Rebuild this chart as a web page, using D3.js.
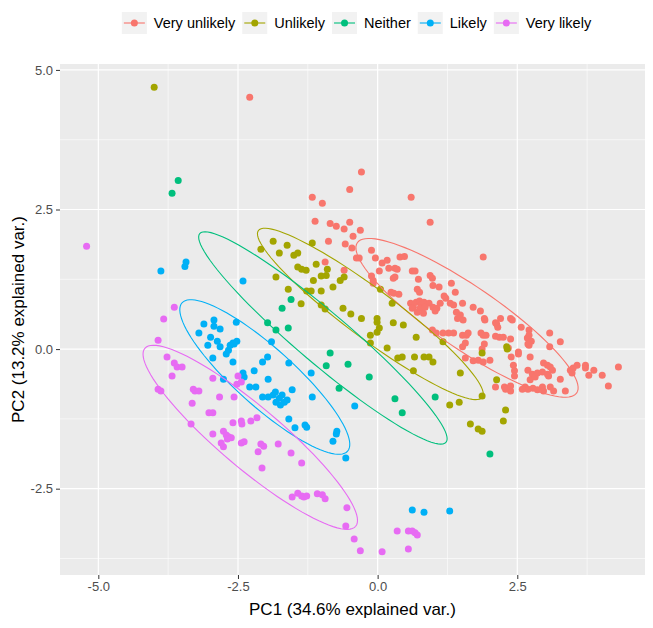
<!DOCTYPE html>
<html><head><meta charset="utf-8">
<script src="https://cdn.jsdelivr.net/npm/d3@7"></script>
<style>body{margin:0;background:#fff}text{font-family:"Liberation Sans",Arial,sans-serif}</style>
</head><body><svg id="chart" width="653" height="628"></svg>
<script>
const categories = ["Very unlikely","Unlikely","Neither","Likely","Very likely"];
const colors = ["#F8766D","#A3A500","#00BF7D","#00B0F6","#E76BF3"];
const xTicks = [-5, -2.5, 0, 2.5];
const yTicks = [-2.5, 0, 2.5, 5];
const xMinor = [-3.75, -1.25, 1.25, 3.75];
const yMinor = [-3.75, -1.25, 1.25, 3.75];
const xTitle = "PC1 (34.6% explained var.)";
const yTitle = "PC2 (13.2% explained var.)";

// [PC1, PC2] per group
const veryUnlikely = [[-2.29,4.51],[-0.29,3.17],[-0.50,2.86],[-1.17,2.72],[-0.99,2.61],[0.60,2.72],[0.94,2.27],[1.89,1.65],
[-1.12,2.29],[-0.85,2.25],[-0.74,2.20],[-0.60,2.15],[-0.50,2.27],[-0.31,2.13],[-0.44,2.02],[-0.88,1.93],[-0.58,1.88],[-0.46,1.81],
[-0.38,1.63],[-0.33,1.63],[-0.94,1.56],[-0.60,1.41],[-0.11,1.77],[-0.04,1.63],[0.08,1.54],[0.17,1.59],[0.03,1.40],[0.20,1.45],
[0.40,1.65],[0.48,1.66],[0.31,1.45],[0.35,1.43],[0.62,1.40],[0.67,1.40],[0.28,1.27],[0.31,1.29],[-0.11,1.31],[-0.08,1.23],
[-0.08,1.18],[0.94,1.32],[0.98,1.27],[0.73,1.25],[0.24,1.02],[0.29,1.00],[0.38,0.98],[0.71,1.07],[0.75,1.02],[0.99,1.14],
[1.10,1.11],[1.19,0.95],[1.22,0.91],[1.12,0.82],[1.30,0.82],[1.32,1.18],[1.39,1.02],[0.59,0.82],[0.64,0.75],[0.69,0.84],
[0.75,0.86],[0.78,0.79],[0.62,0.73],[0.76,0.73],[0.71,0.66],[0.82,0.64],[0.83,0.84],[0.92,0.82],[0.85,0.75],[0.99,0.75],
[1.06,0.73],[1.03,0.68],[1.36,0.79],[1.52,0.82],[1.71,0.75],[1.84,0.68],[1.91,0.55],[1.48,0.61],[1.43,0.55],[1.53,0.52],
[1.41,0.66],[1.92,0.52],[2.13,0.45],[2.15,0.39],[2.20,0.55],[2.38,0.55],[2.41,0.52],[2.11,0.47],[2.57,0.39],[2.71,0.34],
[3.08,0.29],[3.27,0.13],[0.98,0.34],[1.05,0.29],[1.17,0.29],[1.27,0.29],[1.36,0.29],[1.52,0.25],[1.59,0.25],[1.62,0.29],
[1.85,0.29],[1.89,0.25],[1.94,0.25],[2.11,0.23],[2.18,0.21],[2.25,0.21],[2.38,0.18],[1.52,0.04],[1.57,0.11],[1.91,0.09],
[1.87,0.00],[2.34,0.02],[2.52,-0.05],[2.71,0.07],[2.68,0.20],[2.75,0.14],[2.69,0.09],[2.71,0.25],[3.08,0.04],[2.39,-0.14],
[2.52,-0.09],[2.73,-0.14],[1.57,-0.16],[1.71,-0.21],[1.80,-0.20],[1.89,-0.23],[2.01,-0.20],[2.43,-0.29],[2.45,-0.39],[2.45,-0.48],
[2.69,-0.38],[2.77,-0.45],[2.73,-0.55],[2.82,-0.50],[2.86,-0.43],[2.95,-0.41],[2.97,-0.25],[3.04,-0.29],[3.09,-0.32],[3.13,-0.38],
[3.04,-0.45],[3.06,-0.48],[3.27,-0.54],[3.09,-0.68],[3.15,-0.75],[2.95,-0.68],[2.64,-0.68],[2.69,-0.72],[2.78,-0.70],[2.86,-0.73],
[2.59,-0.72],[2.97,-0.75],[2.27,-0.68],[2.34,-0.70],[2.38,-0.75],[2.29,-0.72],[2.11,-0.68],[2.38,-0.66],[3.36,-0.75],[3.45,-0.38],
[3.50,-0.34],[3.57,-0.29],[3.72,-0.29],[3.72,-0.34],[3.87,-0.38],[3.78,-0.47],[4.02,-0.47],[4.13,-0.66],[4.31,-0.32],[3.48,-0.43]];

const unlikely = [[-4.00,4.69],[-1.87,1.93],[-2.09,1.79],[-1.62,1.86],[-1.76,1.72],[-1.50,1.68],[-1.43,1.72],[-1.17,1.90],
[-1.10,1.52],[-1.43,1.47],[-1.36,1.43],[-1.28,1.41],[-0.90,1.43],[-1.01,1.31],[-0.92,1.32],[-1.15,1.23],[-0.67,1.23],[-0.60,1.29],
[-1.82,1.29],[-1.60,1.07],[-1.27,1.04],[-1.19,1.04],[-1.01,1.04],[-0.80,1.11],[-1.37,0.81],[-1.01,0.79],[-0.94,0.72],[-0.62,0.73],
[-0.48,0.63],[-0.29,0.55],[-0.01,0.55],[-0.01,0.48],[0.03,0.38],[-0.01,0.30],[-0.13,0.25],[-0.13,0.11],[0.28,0.47],[0.17,0.02],
[0.36,-0.16],[0.05,1.07],[0.26,0.82],[0.46,0.43],[0.69,0.21],[0.44,-0.14],[0.66,-0.14],[0.83,-0.14],[0.92,-0.14],[0.99,-0.23],
[0.64,-0.39],[1.17,0.13],[1.48,-0.43],[1.87,-0.07],[2.31,0.04],[2.32,0.00],[2.13,-0.55],[1.87,-0.84],[1.46,-0.95],[1.29,-1.00],
[2.29,-1.09],[2.25,-1.29],[1.66,-1.34],[1.80,-1.43],[1.87,-1.47]];

const neither = [[-3.57,3.02],[-3.68,2.79],[-1.55,0.89],[-1.71,0.73],[-1.97,0.47],[-1.82,0.34],[-1.60,0.38],[-0.85,-0.07],
[-0.92,-0.30],[-0.53,-0.27],[-0.15,-0.50],[-0.69,-0.70],[0.31,-0.89],[0.44,-1.14],[1.03,-0.86],[2.01,-1.88]];

const likely = [[-3.88,1.40],[-3.43,1.56],[-3.45,1.48],[-2.41,1.22],[-3.11,0.45],[-2.93,0.52],[-2.93,0.41],[-2.82,0.36],
[-3.20,0.29],[-2.99,0.21],[-2.87,0.14],[-3.04,0.07],[-2.82,0.04],[-2.64,0.07],[-2.59,0.11],[-2.52,0.14],[-2.67,-0.02],[-2.71,-0.09],
[-2.95,-0.16],[-2.59,-0.23],[-2.53,0.48],[-2.76,-0.54],[-2.41,-0.43],[-2.39,-0.50],[-2.21,-0.39],[-2.29,-0.68],[-2.18,-0.68],[-1.96,-0.54],
[-1.90,0.13],[-1.97,-0.14],[-2.06,-0.23],[-2.06,-0.86],[-1.96,-0.86],[-1.87,-0.82],[-1.83,-0.77],[-1.76,-0.88],[-1.71,-0.82],[-1.82,-0.95],
[-1.67,-0.95],[-1.74,-1.00],[-1.62,-0.91],[-1.59,-0.25],[-1.53,-0.73],[-1.59,-1.25],[-1.48,-1.41],[-1.30,-1.36],[-1.27,-1.40],[-1.19,-0.43],
[-1.17,-0.86],[-0.73,-1.47],[-0.74,-1.52],[-0.80,-1.65],[-0.57,-1.95],[-0.41,-1.02],[0.62,-2.88],[0.83,-2.92],[1.29,-2.90],[-2.57,0.09]];

const veryLikely = [[-5.21,1.84],[-3.64,0.75],[-3.83,0.54],[-3.93,0.16],[-3.77,-0.14],[-3.64,-0.25],[-3.59,-0.32],[-3.50,-0.32],
[-3.68,-0.48],[-3.93,-0.72],[-3.88,-0.75],[-3.30,-0.72],[-3.27,-0.75],[-3.20,-0.75],[-3.32,-0.97],[-2.95,-0.52],[-2.83,-0.86],[-2.57,-0.86],
[-2.50,-0.48],[-2.44,-0.59],[-3.02,-1.14],[-2.95,-1.14],[-3.34,-1.34],[-2.59,-1.32],[-2.44,-1.29],[-2.43,-1.34],[-2.27,-1.29],[-2.16,-1.23],
[-2.95,-1.52],[-2.76,-1.47],[-2.71,-1.54],[-2.67,-1.57],[-2.62,-1.59],[-2.69,-1.61],[-2.80,-1.68],[-2.76,-1.75],[-2.44,-1.68],[-2.39,-1.66],
[-2.09,-1.70],[-2.04,-1.74],[-1.78,-1.70],[-2.14,-1.84],[-1.55,-1.86],[-1.36,-2.04],[-2.07,-2.13],[-1.53,-2.65],[-1.43,-2.58],[-1.36,-2.63],
[-1.32,-2.65],[-1.27,-2.63],[-1.08,-2.59],[-0.99,-2.61],[-0.94,-2.68],[-0.55,-2.84],[-0.57,-3.17],[-0.42,-3.40],[-0.31,-3.61],[0.08,-3.63],
[0.35,-3.26],[0.55,-3.26],[0.62,-3.26],[0.67,-3.29],[0.71,-3.33],[0.55,-3.58],[-2.52,-0.63]];

// normal-probability ellipses per group (data units): centre, semi-axes, tilt of major axis (degrees)
const ellipseCx = [1.60, -0.13, -0.98, -2.02, -2.28];
const ellipseCy = [0.56, 0.63, 0.20, -0.50, -1.58];
const ellipseA  = [2.38, 2.50, 2.89, 1.99, 2.47];
const ellipseB  = [0.56, 0.44, 0.46, 0.52, 0.55];
const ellipseAngle = [-34.4, -36.7, -40.3, -41.9, -40.2];

const groups = [veryUnlikely, unlikely, neither, likely, veryLikely];

const svg = d3.select("#chart");
const P = {left:60, right:645, top:64, bottom:575};
const all = groups.flat();
const xe = d3.extent(all, d=>d[0]), ye = d3.extent(all, d=>d[1]);
const xp = (xe[1]-xe[0])*0.05, yp = (ye[1]-ye[0])*0.05;
const x = d3.scaleLinear().domain([xe[0]-xp, xe[1]+xp]).range([P.left, P.right]);
const y = d3.scaleLinear().domain([ye[0]-yp, ye[1]+yp]).range([P.bottom, P.top]);

svg.append("rect").attr("x",P.left).attr("y",P.top).attr("width",P.right-P.left).attr("height",P.bottom-P.top).attr("fill","#EBEBEB");
const grid = svg.append("g");
grid.selectAll(".xm").data(xMinor).join("line").attr("x1",d=>x(d)).attr("x2",d=>x(d)).attr("y1",P.top).attr("y2",P.bottom).attr("stroke","#fff").attr("stroke-width",0.6);
grid.selectAll(".ym").data(yMinor).join("line").attr("y1",d=>y(d)).attr("y2",d=>y(d)).attr("x1",P.left).attr("x2",P.right).attr("stroke","#fff").attr("stroke-width",0.6);
grid.selectAll(".xM").data(xTicks).join("line").attr("x1",d=>x(d)).attr("x2",d=>x(d)).attr("y1",P.top).attr("y2",P.bottom).attr("stroke","#fff").attr("stroke-width",1.2);
grid.selectAll(".yM").data(yTicks).join("line").attr("y1",d=>y(d)).attr("y2",d=>y(d)).attr("x1",P.left).attr("x2",P.right).attr("stroke","#fff").attr("stroke-width",1.2);

// points
groups.forEach((g,i)=>{
  svg.append("g").selectAll("circle").data(g).join("circle")
    .attr("cx",d=>x(d[0])).attr("cy",d=>y(d[1])).attr("r",3.5).attr("fill",colors[i]);
});
// ellipses
const line = d3.line().x(d=>x(d[0])).y(d=>y(d[1]));
categories.forEach((c,i)=>{
  const th = ellipseAngle[i]*Math.PI/180;
  const pts = d3.range(0,101).map(k=>{
    const t = k/100*2*Math.PI;
    const dx = ellipseA[i]*Math.cos(t), dy = ellipseB[i]*Math.sin(t);
    return [ellipseCx[i] + dx*Math.cos(th) - dy*Math.sin(th), ellipseCy[i] + dx*Math.sin(th) + dy*Math.cos(th)];
  });
  svg.append("path").attr("d",line(pts)).attr("fill","none").attr("stroke",colors[i]).attr("stroke-width",1.1);
});

// axes
const fmt = d=>d.toFixed(1);
const gx = svg.append("g").attr("transform",`translate(0,${P.bottom})`)
  .call(d3.axisBottom(x).tickValues(xTicks).tickFormat(fmt).tickSize(4).tickPadding(3));
const gy = svg.append("g").attr("transform",`translate(${P.left},0)`)
  .call(d3.axisLeft(y).tickValues(yTicks).tickFormat(fmt).tickSize(4).tickPadding(3));
[gx,gy].forEach(g=>{
  g.select(".domain").remove();
  g.selectAll(".tick line").attr("stroke","#333333");
  g.selectAll(".tick text").attr("fill","#4D4D4D").style("font-size","13px").style("font-family","'Liberation Sans',Arial,sans-serif");
});
svg.append("text").attr("x",(P.left+P.right)/2).attr("y",615).attr("text-anchor","middle")
  .style("font-size","17px").attr("fill","#000").text(xTitle);
svg.append("text").attr("transform",`translate(24,${(P.top+P.bottom)/2}) rotate(-90)`).attr("text-anchor","middle")
  .style("font-size","17px").attr("fill","#000").text(yTitle);

// legend
const lg = svg.append("g");
const keyW = 25, keyH = 22, gapT = 7, gapI = 7, ly = 23;
let cx = 0;
categories.forEach((c,i)=>{
  const it = lg.append("g");
  it.append("rect").attr("x",0).attr("y",ly-keyH/2).attr("width",keyW).attr("height",keyH).attr("fill","#F2F2F2");
  it.append("line").attr("x1",2).attr("x2",keyW-2).attr("y1",ly).attr("y2",ly).attr("stroke",colors[i]).attr("stroke-width",1.1);
  it.append("circle").attr("cx",keyW/2).attr("cy",ly).attr("r",3.5).attr("fill",colors[i]);
  const t = it.append("text").attr("x",keyW+gapT).attr("y",ly).attr("dy","0.35em").style("font-size","14.5px").attr("fill","#000").text(c);
  const w = t.node().getComputedTextLength();
  it.attr("transform",`translate(${cx},0)`);
  cx += keyW + gapT + w + gapI;
});
const total = cx - gapI;
lg.attr("transform",`translate(${356.5 - total/2},0)`);
</script></body></html>
